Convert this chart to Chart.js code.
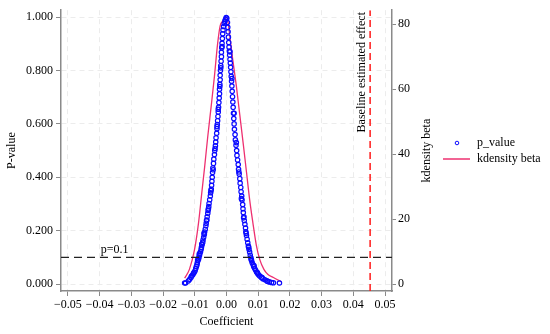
<!DOCTYPE html>
<html>
<head>
<meta charset="utf-8">
<script src="https://cdn.jsdelivr.net/npm/chart.js@4"></script>
<style>
  html, body { margin: 0; padding: 0; background: #fff; }
  #wrap { width: 550px; height: 334px; }
</style>
</head>
<body>
<div id="wrap"><canvas id="chart" width="550" height="334"></canvas></div>
<script>
// p-values by coefficient (left branch, then right branch)
const coefLeft = [-0.0132, -0.0129, -0.0120, -0.0116, -0.0112, -0.0110, -0.0107, -0.0104, -0.0102, -0.0099,
  -0.0097, -0.0095, -0.0093, -0.0092, -0.0090, -0.0088, -0.0087, -0.0085, -0.0084, -0.0082,
  -0.0080, -0.0079, -0.0077, -0.0075, -0.0074, -0.0072, -0.0070, -0.0069, -0.0067, -0.0065,
  -0.0064, -0.0062, -0.0061, -0.0059, -0.0058, -0.0056, -0.0055, -0.0053, -0.0051, -0.0050,
  -0.0048, -0.0047, -0.0046, -0.0045, -0.0044, -0.0043, -0.0041, -0.0040, -0.0038, -0.0037,
  -0.0035, -0.0034, -0.0033, -0.0031, -0.0030, -0.0029, -0.0028, -0.0027, -0.0026, -0.0025,
  -0.0024, -0.0023, -0.0022, -0.0022, -0.0021, -0.0020, -0.0020, -0.0019, -0.0018, -0.0017,
  -0.0016, -0.0016, -0.0015, -0.0014, -0.0013, -0.0012, -0.0011, -0.0009, -0.0007, -0.0005,
  -0.0003, -0.0001, -0.0091, -0.0086, -0.0078, -0.0071, -0.0063, -0.0057, -0.0049, -0.0042,
  -0.0036, -0.0030, -0.0026, -0.0021, -0.0018, -0.0014];
const pLeft = [0.004, 0.004, 0.012, 0.018, 0.025, 0.030, 0.034, 0.040, 0.044, 0.050,
  0.058, 0.066, 0.072, 0.080, 0.088, 0.094, 0.100, 0.108, 0.115, 0.121,
  0.130, 0.138, 0.147, 0.156, 0.165, 0.175, 0.186, 0.195, 0.205, 0.218,
  0.228, 0.240, 0.252, 0.265, 0.276, 0.290, 0.302, 0.316, 0.330, 0.342,
  0.355, 0.370, 0.385, 0.400, 0.418, 0.435, 0.452, 0.468, 0.485, 0.500,
  0.518, 0.532, 0.548, 0.565, 0.582, 0.598, 0.612, 0.628, 0.645, 0.662,
  0.680, 0.697, 0.713, 0.730, 0.748, 0.765, 0.782, 0.800, 0.818, 0.835,
  0.852, 0.868, 0.885, 0.902, 0.920, 0.938, 0.952, 0.965, 0.976, 0.985,
  0.992, 0.998, 0.090, 0.112, 0.150, 0.190, 0.238, 0.282, 0.350, 0.428,
  0.508, 0.590, 0.655, 0.740, 0.810, 0.890];

const coefRight = [0.0001, 0.0003, 0.0004, 0.0005, 0.0006, 0.0007, 0.0008, 0.0009, 0.0010, 0.0011,
  0.0012, 0.0013, 0.0014, 0.0015, 0.0016, 0.0017, 0.0018, 0.0019, 0.0020, 0.0021,
  0.0022, 0.0023, 0.0024, 0.0025, 0.0027, 0.0028, 0.0030, 0.0032, 0.0033, 0.0035,
  0.0037, 0.0038, 0.0040, 0.0042, 0.0043, 0.0045, 0.0046, 0.0048, 0.0049, 0.0051,
  0.0052, 0.0053, 0.0055, 0.0056, 0.0058, 0.0060, 0.0061, 0.0063, 0.0065, 0.0067,
  0.0069, 0.0071, 0.0073, 0.0075, 0.0077, 0.0079, 0.0081, 0.0084, 0.0086, 0.0089,
  0.0092, 0.0095, 0.0098, 0.0101, 0.0105, 0.0110, 0.0115, 0.0121, 0.0127, 0.0135,
  0.0142, 0.0148, 0.0167, 0.0011, 0.0017, 0.0024, 0.0031, 0.0039, 0.0047, 0.0054,
  0.0062, 0.0070, 0.0078, 0.0087, 0.0097, 0.0112, 0.0130];
const pRight = [0.996, 0.980, 0.962, 0.945, 0.925, 0.905, 0.888, 0.872, 0.858, 0.842,
  0.828, 0.812, 0.795, 0.778, 0.760, 0.742, 0.722, 0.702, 0.682, 0.662,
  0.640, 0.620, 0.600, 0.580, 0.560, 0.540, 0.520, 0.500, 0.482, 0.465,
  0.448, 0.430, 0.412, 0.395, 0.378, 0.362, 0.346, 0.330, 0.315, 0.298,
  0.282, 0.268, 0.252, 0.238, 0.224, 0.210, 0.196, 0.182, 0.168, 0.155,
  0.142, 0.130, 0.120, 0.108, 0.098, 0.088, 0.080, 0.072, 0.065, 0.058,
  0.052, 0.045, 0.040, 0.035, 0.030, 0.025, 0.020, 0.016, 0.012, 0.008,
  0.006, 0.005, 0.004, 0.870, 0.770, 0.640, 0.530, 0.420, 0.320, 0.248,
  0.190, 0.138, 0.092, 0.068, 0.043, 0.024, 0.010];

// kernel density of beta (right axis)
const kdCoef = [-0.0132, -0.0117, -0.0101, -0.0088, -0.0078, -0.0069, -0.0059, -0.0048, -0.0038, -0.0028,
  -0.0020, -0.0014, -0.0006, 0.0000, 0.0004, 0.0012, 0.0020, 0.0031, 0.0042, 0.0053,
  0.0063, 0.0073, 0.0083, 0.0094, 0.0105, 0.0118, 0.0130, 0.0148, 0.0173];
const kdDensity = [1.8, 4.5, 10.5, 19.0, 28.0, 36.0, 45.5, 55.0, 64.0, 74.0,
  79.5, 80.7, 81.5, 82.1, 81.2, 75.0, 68.9, 61.0, 52.0, 43.0,
  34.5, 26.0, 19.0, 12.0, 7.5, 4.5, 3.0, 2.0, 0.7];

const xTicks = [-0.05, -0.04, -0.03, -0.02, -0.01, 0, 0.01, 0.02, 0.03, 0.04, 0.05];
const xTickLabels = ["\u22120.05", "\u22120.04", "\u22120.03", "\u22120.02", "\u22120.01", "0.00", "0.01", "0.02", "0.03", "0.04", "0.05"];
const yTicks = [0, 0.2, 0.4, 0.6, 0.8, 1.0];
const yTickLabels = ["0.000", "0.200", "0.400", "0.600", "0.800", "1.000"];
const y2Ticks = [0, 20, 40, 60, 80];

const pThreshold = 0.1;
const baselineEffect = 0.0453;

const xMin = -0.0522, xMax = 0.0522;
const yMin = -0.026, yMax = 1.026;
const y2Min = -2.15, y2Max = 84.3;

const FONT = "'Liberation Serif', 'Times New Roman', serif";
const BLUE = "#0a0aff";
const PINK = "#ee3070";
const AXIS = "#8a8a8a";
const GRID = "#ececec";

const pvPoints = coefLeft.map((c, i) => ({ x: c, y: pLeft[i] }))
  .concat(coefRight.map((c, i) => ({ x: c, y: pRight[i] })));
const kdPoints = kdCoef.map((c, i) => ({ x: c, y: kdDensity[i] }));

// texts, legend and right title drawn on top
const extras = {
  id: "extras",
  afterDatasetsDraw(chart) {
    const { ctx, scales: { x, y } } = chart;
    ctx.save();
    ctx.font = "12px " + FONT;
    ctx.fillStyle = "#000";

    // p=0.1 label
    ctx.textAlign = "left";
    ctx.textBaseline = "alphabetic";
    ctx.fillText("p=0.1", x.getPixelForValue(-0.0397), y.getPixelForValue(pThreshold) - 4);

    // baseline label
    ctx.save();
    ctx.translate(x.getPixelForValue(baselineEffect) - 8, 12);
    ctx.rotate(-Math.PI / 2);
    ctx.textAlign = "right";
    ctx.textBaseline = "middle";
    ctx.fillText("Baseline estimated effect", 0, 0);
    ctx.restore();

    // right axis title
    ctx.save();
    ctx.translate(427, (chart.chartArea.top + chart.chartArea.bottom) / 2);
    ctx.rotate(-Math.PI / 2);
    ctx.textAlign = "center";
    ctx.textBaseline = "middle";
    ctx.fillText("kdensity beta", 0, 0);
    ctx.restore();

    // legend
    ctx.strokeStyle = BLUE;
    ctx.lineWidth = 1;
    ctx.beginPath();
    ctx.arc(457, 143, 1.8, 0, Math.PI * 2);
    ctx.stroke();
    ctx.strokeStyle = PINK;
    ctx.lineWidth = 1.5;
    ctx.beginPath();
    ctx.moveTo(443, 159);
    ctx.lineTo(470, 159);
    ctx.stroke();
    ctx.textAlign = "left";
    ctx.textBaseline = "middle";
    ctx.fillText("p_value", 477, 143);
    ctx.fillText("kdensity beta", 477, 159);
    ctx.restore();
  }
};

new Chart(document.getElementById("chart"), {
  type: "scatter",
  data: {
    datasets: [
      {
        label: "p=0.1",
        type: "line",
        data: [{ x: xMin, y: pThreshold }, { x: xMax, y: pThreshold }],
        borderColor: "#222",
        borderWidth: 1.3,
        borderDash: [8, 5],
        pointRadius: 0,
        yAxisID: "y",
        order: 1
      },
      {
        label: "Baseline estimated effect",
        type: "line",
        data: [{ x: baselineEffect, y: yMin }, { x: baselineEffect, y: yMax }],
        borderColor: "#ff1a1a",
        borderWidth: 1.5,
        borderDash: [7, 4],
        pointRadius: 0,
        yAxisID: "y",
        order: 1
      },
      {
        label: "kdensity beta",
        type: "line",
        data: kdPoints,
        borderColor: PINK,
        borderWidth: 1.3,
        pointRadius: 0,
        cubicInterpolationMode: "monotone",
        yAxisID: "y1",
        order: 3
      },
      {
        label: "p_value",
        data: pvPoints,
        borderColor: BLUE,
        backgroundColor: "rgba(0,0,0,0)",
        borderWidth: 1.2,
        pointRadius: 2.2,
        yAxisID: "y",
        order: 2
      }
    ]
  },
  options: {
    responsive: false,
    animation: false,
    layout: { padding: { top: 10, left: 0, right: 108, bottom: 0 } },
    plugins: { legend: { display: false }, tooltip: { enabled: false } },
    scales: {
      x: {
        type: "linear",
        min: xMin, max: xMax,
        afterFit(s) { s.height = 43; },
        afterBuildTicks(s) { s.ticks = xTicks.map(v => ({ value: v })); },
        ticks: {
          font: { family: FONT, size: 12 }, color: "#000", padding: 2,
          maxRotation: 0,
          callback: (v) => xTickLabels[xTicks.findIndex(t => Math.abs(t - v) < 1e-9)]
        },
        grid: { color: GRID, tickColor: AXIS, tickLength: 5, lineWidth: 1 },
        border: { color: AXIS, width: 1.5, dash: [5, 4] },
        title: { display: true, text: "Coefficient", font: { family: FONT, size: 12 }, color: "#000", padding: { top: 0, bottom: 5 } }
      },
      y: {
        type: "linear",
        position: "left",
        min: yMin, max: yMax,
        afterFit(s) { s.width = 61; },
        afterBuildTicks(s) { s.ticks = yTicks.map(v => ({ value: v })); },
        ticks: {
          font: { family: FONT, size: 12 }, color: "#000", padding: 3,
          callback: (v) => yTickLabels[yTicks.findIndex(t => Math.abs(t - v) < 1e-9)]
        },
        grid: { color: GRID, tickColor: AXIS, tickLength: 5, lineWidth: 1 },
        border: { color: AXIS, width: 1.5, dash: [5, 4] },
        title: { display: true, text: "P-value", font: { family: FONT, size: 12 }, color: "#000", padding: { top: 5, bottom: 0 } }
      },
      y1: {
        type: "linear",
        position: "right",
        min: y2Min, max: y2Max,
        afterFit(s) { s.width = 50; },
        afterBuildTicks(s) { s.ticks = y2Ticks.map(v => ({ value: v })); },
        ticks: { font: { family: FONT, size: 12 }, color: "#000", padding: 2 },
        grid: { drawOnChartArea: false, tickColor: AXIS, tickLength: 4 },
        border: { color: AXIS, width: 1.5 }
      }
    }
  },
  plugins: [extras]
});
</script>
</body>
</html>
